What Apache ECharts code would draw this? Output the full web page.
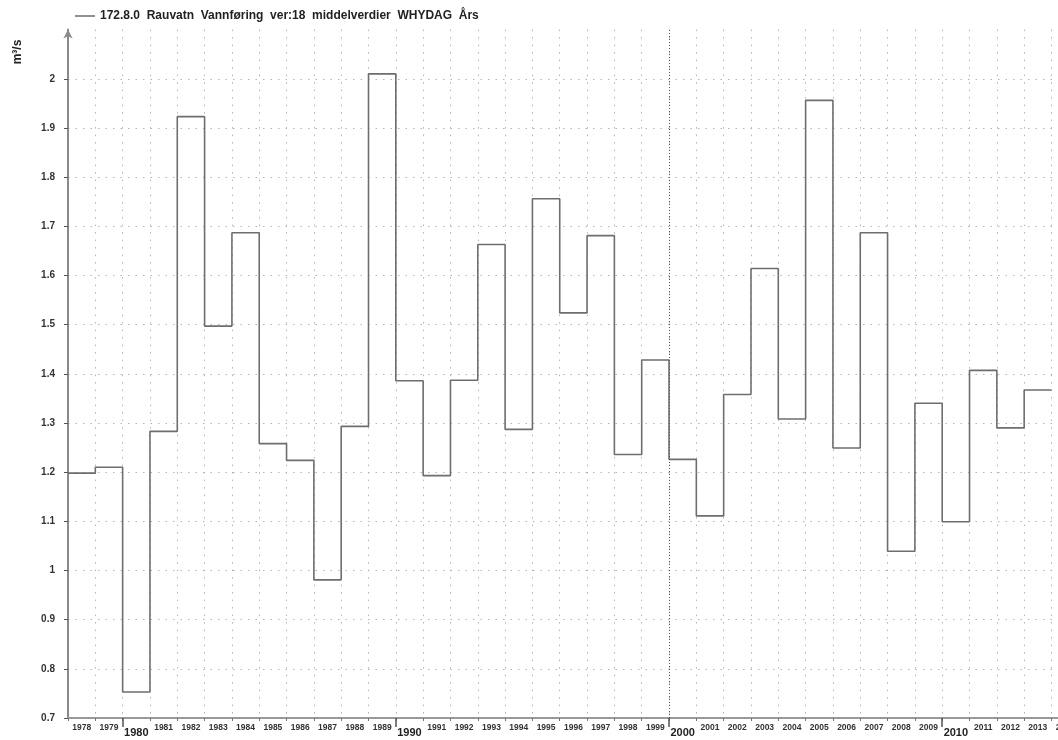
<!DOCTYPE html>
<html>
<head>
<meta charset="utf-8">
<script src="https://cdn.jsdelivr.net/npm/echarts@6/dist/echarts.min.js"></script>
<style>
  html, body { margin: 0; padding: 0; background: #fff; }
  #chart { width: 1058px; height: 740px; }
</style>
</head>
<body>
<div id="chart"></div>
<script>
// Annual mean discharge, station 172.8.0 Rauvatn
const seriesName = '172.8.0  Rauvatn  Vannføring  ver:18  middelverdier  WHYDAG  Års';
const unitLabel = 'm³/s';

const years = [1978, 1979, 1980, 1981, 1982, 1983, 1984, 1985, 1986, 1987,
               1988, 1989, 1990, 1991, 1992, 1993, 1994, 1995, 1996, 1997,
               1998, 1999, 2000, 2001, 2002, 2003, 2004, 2005, 2006, 2007,
               2008, 2009, 2010, 2011, 2012, 2013];

const flow = [1.198, 1.210, 0.753, 1.283, 1.923, 1.497, 1.687, 1.258, 1.224, 0.981,
              1.293, 2.010, 1.386, 1.193, 1.387, 1.663, 1.287, 1.756, 1.524, 1.681,
              1.236, 1.428, 1.226, 1.111, 1.358, 1.614, 1.308, 1.956, 1.249, 1.687,
              1.039, 1.340, 1.099, 1.407, 1.290, 1.367];

// Year bands along the time axis (the last one runs off the right edge)
const axisYears = [1978, 1979, 1980, 1981, 1982, 1983, 1984, 1985, 1986, 1987,
                   1988, 1989, 1990, 1991, 1992, 1993, 1994, 1995, 1996, 1997,
                   1998, 1999, 2000, 2001, 2002, 2003, 2004, 2005, 2006, 2007,
                   2008, 2009, 2010, 2011, 2012, 2013, 2014];

const yMin = 0.7, yMax = 2.1, yStep = 0.1;
const centuryMark = 2000;

const FONT = '"Liberation Sans", Arial, Helvetica, sans-serif';
const dotted = { color: '#b4b4b4', width: 1, type: [1.5, 6] };

// Each annual value is held across its year: [year, value] ... plus a closing point
const stepData = years.map((y, i) => [y, flow[i]]);
stepData.push([years[years.length - 1] + 1, flow[flow.length - 1]]);

const chart = echarts.init(document.getElementById('chart'), null, { renderer: 'canvas' });

chart.setOption({
  animation: false,
  backgroundColor: '#ffffff',
  textStyle: { fontFamily: FONT },
  grid: {
    left: 68, right: -20.8, top: 29.6, bottom: 22,
    containLabel: false, outerBoundsMode: 'none'
  },
  legend: {
    left: 75, top: 10, padding: 0,
    icon: 'rect', itemWidth: 20, itemHeight: 1.5, itemGap: 5,
    textStyle: { fontFamily: FONT, fontSize: 12, fontWeight: 'bold', color: '#222' },
    data: [{ name: seriesName }]
  },
  graphic: [{
    type: 'text',
    x: 18, y: 52,
    rotation: Math.PI / 2,
    style: {
      text: unitLabel,
      font: 'bold 12px ' + FONT,
      fill: '#222',
      align: 'center',
      verticalAlign: 'middle'
    }
  }],
  xAxis: [
    {
      // year bands: labels centred in each year, ticks on the boundaries
      type: 'category',
      data: axisYears,
      boundaryGap: true,
      position: 'bottom',
      axisLine: { show: true, onZero: false, lineStyle: { color: '#9a9a9a', width: 2 } },
      axisTick: { show: true, length: 3, interval: 0, lineStyle: { color: '#777', width: 1 } },
      axisLabel: {
        show: true, interval: 0, margin: 5,
        formatter: (v) => (Number(v) % 10 === 0 ? '{big|' + v + '}' : '{small|' + v + '}'),
        rich: {
          small: { fontFamily: FONT, fontSize: 8.5, fontWeight: 'bold', color: '#333' },
          big: { fontFamily: FONT, fontSize: 11, fontWeight: 'bold', color: '#222', padding: [4, 0, 0, 0] }
        }
      },
      splitLine: { show: true, interval: 0, lineStyle: dotted }
    },
    {
      // longer ticks at each decade
      type: 'category',
      data: axisYears,
      boundaryGap: true,
      position: 'bottom',
      axisLine: { show: false, onZero: false },
      axisTick: {
        show: true, length: 9,
        interval: (idx, v) => Number(v) % 10 === 0,
        lineStyle: { color: '#555', width: 1.5 }
      },
      axisLabel: { show: false },
      splitLine: { show: false }
    },
    {
      // numeric time scale used to place the step line
      type: 'value',
      min: years[0],
      max: axisYears[axisYears.length - 1] + 1,
      show: false
    }
  ],
  yAxis: {
    type: 'value',
    min: yMin, max: yMax, interval: yStep,
    axisLine: {
      show: true, onZero: false,
      symbol: ['none', 'arrow'], symbolSize: [7, 9],
      lineStyle: { color: '#8a8a8a', width: 2 }
    },
    axisTick: { show: true, length: 4, lineStyle: { color: '#555', width: 1 } },
    axisLabel: {
      margin: 13, fontFamily: FONT, fontSize: 10, fontWeight: 'bold', color: '#333',
      showMaxLabel: false,
      formatter: (v) => String(+v.toFixed(1))
    },
    splitLine: { show: true, showMaxLine: false, lineStyle: dotted }
  },
  series: [{
    name: seriesName,
    type: 'line',
    xAxisIndex: 2,
    step: 'end',
    symbol: 'none',
    clip: true,
    color: '#6e6e6e',
    lineStyle: { color: '#6e6e6e', width: 1.6 },
    data: stepData,
    markLine: {
      silent: true,
      symbol: ['none', 'none'],
      label: { show: false },
      lineStyle: { color: '#555', width: 1, type: [1, 2] },
      data: [{ xAxis: centuryMark }]
    }
  }]
});
</script>
</body>
</html>
